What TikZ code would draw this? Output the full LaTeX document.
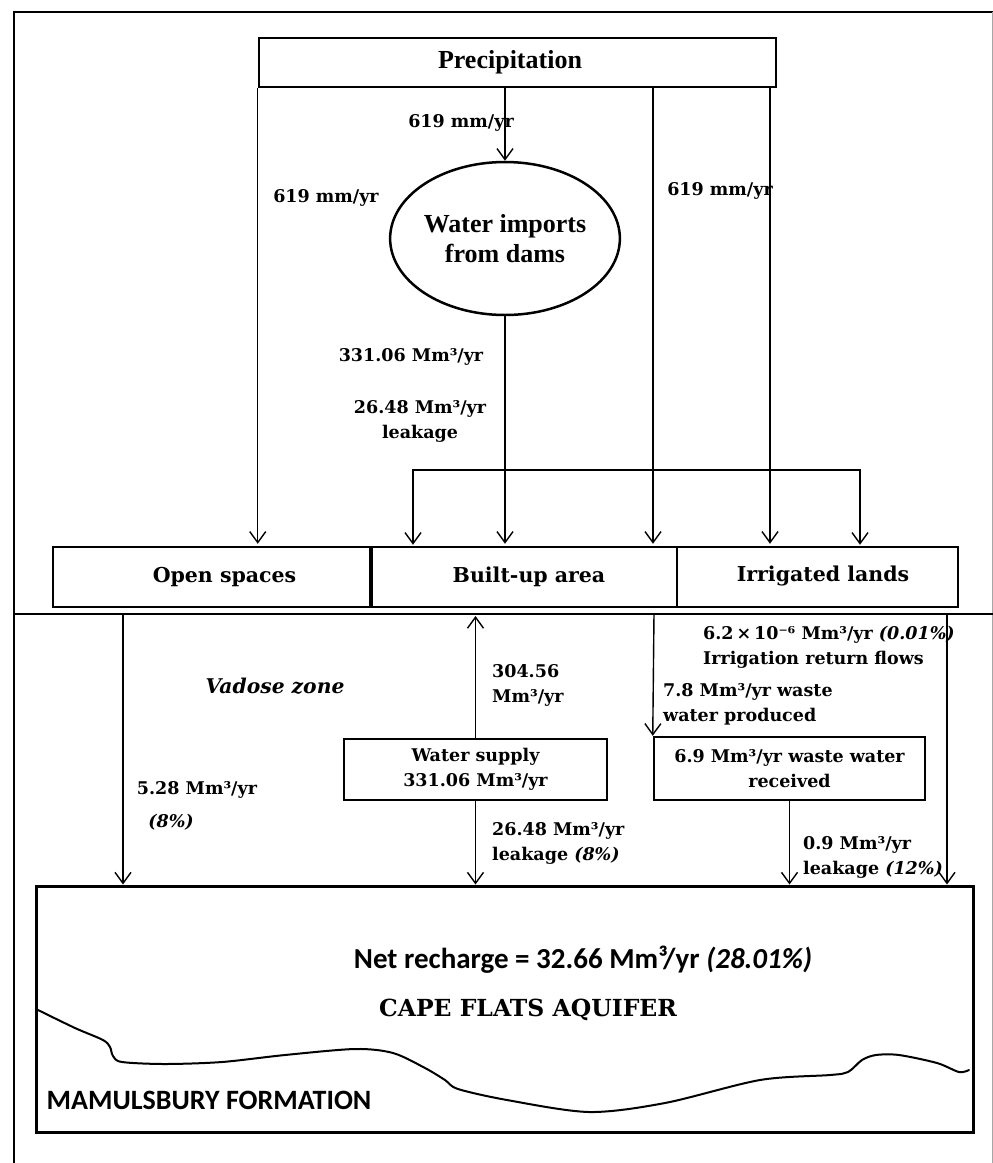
\documentclass[tikz,border=0pt]{standalone}
\usepackage{fontspec}
\setmainfont{Liberation Serif}
\newfontfamily\camfont{DejaVu Serif}
\newfontfamily\calfont{Carlito}
\usetikzlibrary{arrows.meta,shapes.geometric}
\tikzset{
  box/.style={draw, line width=2.5pt, inner sep=0pt, rectangle},
  conn/.style={line width=1.4pt},
  arr/.style={conn, -{Straight Barb[length=11pt,width=16pt,line width=1.4pt]}},
  arrbb/.style={conn, {Straight Barb[length=11pt,width=16pt,line width=1.4pt]}-{Straight Barb[length=11pt,width=16pt,line width=1.4pt]}},
  lbl/.style={font=\camfont\bfseries\fontsize{17.5}{25}\selectfont, inner sep=0pt, align=center},
  lbll/.style={lbl, align=left, anchor=west},
  hdr/.style={font=\bfseries\fontsize{26}{30}\selectfont, inner sep=0pt, align=center},
  zone/.style={font=\camfont\bfseries\fontsize{20.5}{25}\selectfont, inner sep=0pt},
  zoneit/.style={font=\camfont\bfseries\itshape\fontsize{20.3}{25}\selectfont, inner sep=0pt},
  aqf/.style={font=\calfont\bfseries\fontsize{29}{32}\selectfont, inner sep=0pt},
  aqs/.style={font=\camfont\bfseries\fontsize{23.5}{28}\selectfont, inner sep=0pt},
}
\begin{document}
\begin{tikzpicture}[x=1pt,y=-1pt]
\useasboundingbox (0,0) rectangle (993,1163);
% frame
\draw[line width=2pt] (14,1163) -- (14,12) -- (993,12);
\draw[line width=0.6pt, black!35] (992,12) -- (992,1163);
\draw[conn] (14,614) -- (993,614);

% top nodes
\node[box, minimum width=517pt, minimum height=49pt] (prec) at (517.5,62.5) {};
\node[hdr] (prect) at (510,62) {Precipitation};
\node[draw, ellipse, line width=2.5pt, minimum width=204pt, minimum height=153pt, hdr] (dams) at (505,238.5) {Water imports\\from dams};

% land boxes
\node[box, minimum width=318pt, minimum height=60pt] (open) at (212,577) {};
\node[zone] (opent) at (224.5,577) {Open spaces};
\node[box, minimum width=305pt, minimum height=60pt] (built) at (524.5,577) {};
\draw[line width=4pt] (built.north west) -- (built.south west);
\node[zone] (builtt) at (529,577) {Built-up area};
\node[box, minimum width=281pt, minimum height=60pt] (irr) at (817.5,577) {};
\node[zone] (irrt) at (823,576) {Irrigated lands};

% lower boxes
\node[box, minimum width=263pt, minimum height=61pt, lbl] (supply) at (475.5,769.5) {Water supply\\331.06 Mm³/yr};
\node[box, minimum width=271pt, minimum height=63pt, lbl] (waste) at (789.5,768.5) {6.9 Mm³/yr waste water\\received};
\node[box, line width=3pt, minimum width=937pt, minimum height=246pt] (aq) at (504.5,1009) {};

% column coordinates
\coordinate (c3) at (653,0);
\coordinate (c4) at (770,0);
\coordinate (bl) at (413,470);
\coordinate (br) at (860,470);
\coordinate (h1) at (123,614);
\coordinate (h2) at (654,614);
\coordinate (h3) at (947,614);

% upper connectors
\draw[arr, shorten >=2pt] (prec.south west) -- (prec.south west |- open.north);
\draw[arr] (dams.north |- prec.south) -- (dams.north);
\draw[arr, shorten >=2pt] (prec.south -| c3) -- (built.north -| c3);
\draw[arr, shorten >=2pt] (prec.south -| c4) -- (irr.north -| c4);
\draw[arr, shorten >=2pt] (dams.south) -- (dams.south |- built.north);
\draw[arrbb, shorten >=1pt, shorten <=1pt] (bl |- built.north) -- (bl) -- (br) -- (br |- irr.north);

% lower connectors
\draw[arr] (h1) -- (h1 |- aq.north);
\draw[arr, shorten >=2pt] (supply.north) -- (supply.north |- h1);
\draw[arr] (supply.south) -- (supply.south |- aq.north);
\draw[arr] (h2) -- (waste.north west);
\draw[arr] (waste.south) -- (waste.south |- aq.north);
\draw[arr] (h3) -- (h3 |- aq.north);

% wave
\draw[line width=2pt, line cap=round] plot[smooth, tension=0.5] coordinates {
(38,1010) (75,1028) (103,1040) (110,1047) (113,1056) (122,1062) (165,1064) (222,1062) (285,1055) (355,1049) (393,1053) (425,1068) (445,1080) (458,1089) (507,1100) (589,1112) (665,1103) (760,1080) (830,1075) (848,1072) (862,1060) (876,1055) (899,1055) (937,1063) (959,1072) (969,1070)};

% labels
\node[lbl] (l1) at (461,123) {619 mm/yr};
\node[lbl] (l2) at (326,198) {619 mm/yr};
\node[lbl] (l3) at (720,191) {619 mm/yr};
\node[lbl] (l4) at (411,357) {331.06 Mm³/yr};
\node[lbl] (l5) at (420,421) {26.48 Mm³/yr\\leakage};
\node[zoneit] (vad) at (275,686) {Vadose zone};
\node[lbl] (l6) at (197,790) {5.28 Mm³/yr};
\node[lbl] (l7) at (171,822) {\itshape (8\%)};
\node[lbll] (l8) at (492,685.5) {304.56\\Mm³/yr};
\node[lbll] (l9) at (492,843.5) {26.48 Mm³/yr\\leakage \textit{(8\%)}};
\node[lbll] (l10) at (703,647.5) {6.2\,×\,10⁻⁶ Mm³/yr \textit{(0.01\%)}\\Irrigation return flows};
\node[lbll] (l11) at (663,704.5) {7.8 Mm³/yr waste\\water produced};
\node[lbll] (l12) at (803,857.5) {0.9 Mm³/yr\\leakage \textit{(12\%)}};
\node[aqf] (nr) at (583,960) {Net recharge = 32.66 Mm³/yr \textit{(28.01\%)}};
\node[aqs] (cfa) at (528,1010) {CAPE FLATS AQUIFER};
\node[aqf, font=\calfont\bfseries\fontsize{28}{32}\selectfont] (mf) at (209,1100) {MAMULSBURY FORMATION};
\end{tikzpicture}
\end{document}
